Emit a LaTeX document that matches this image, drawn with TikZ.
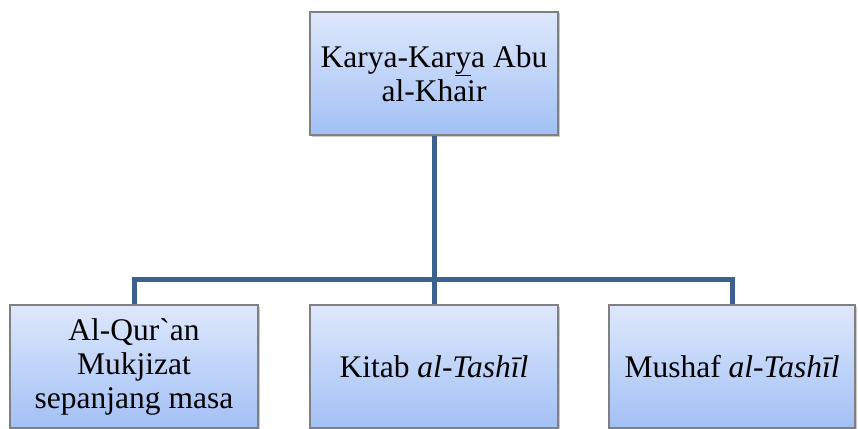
\documentclass[tikz,border=0pt]{standalone}
\usepackage{fontspec}
\setmainfont{Liberation Serif}
\newfontfamily\rawserif[Ligatures=TeXOff]{Liberation Serif}
\usetikzlibrary{shadows}
\definecolor{boxtop}{RGB}{222,232,252}
\definecolor{boxbot}{RGB}{162,192,245}
\definecolor{boxline}{RGB}{128,128,128}
\definecolor{conn}{RGB}{60,97,143}
\tikzset{
  orgbox/.style={draw=boxline, line width=1.3pt, top color=boxtop, bottom color=boxbot,
    minimum width=248pt, minimum height=123pt, inner sep=0pt, align=center,
    font=\fontsize{31.5}{34}\selectfont,
    drop shadow={shadow xshift=1.5pt, shadow yshift=-1.5pt, opacity=0.35, fill=black!60}},
  conline/.style={draw=conn, line width=5pt}
}
\begin{document}
\begin{tikzpicture}[x=1pt,y=-1pt]
\useasboundingbox (0,0) rectangle (858,428);
\clip (0,0) rectangle (858,428);
\node[orgbox] (top) at (434,73.5) {Karya-Kar\underline{y}a Abu\\al-Khair};
\node[orgbox] (b1) at (134,366.5) {Al-Qur{\rawserif `}an\\Mukjizat\\sepanjang masa};
\node[orgbox] (b2) at (434,366.5) {Kitab \textit{al-Tashīl}};
\node[orgbox, minimum width=246pt] (b3) at (732,366.5) {Mushaf \textit{al-Tashīl}};
\coordinate (bus) at (434,279.5);
\draw[conline] (top.south) -- (bus);
\draw[conline] (b1.north) |- (bus) -| (b3.north);
\draw[conline] (bus) -- (b2.north);
\end{tikzpicture}
\end{document}
